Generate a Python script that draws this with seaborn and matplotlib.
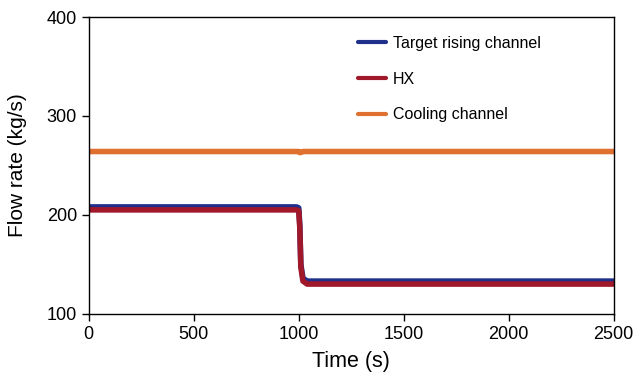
import matplotlib
matplotlib.use("Agg")
import matplotlib.pyplot as plt
import seaborn as sns
import pandas as pd

# Transient flow rates in the loop after the step change at t = 1000 s
time_s = [0, 990, 1000, 1005, 1010, 1020, 1040, 1500, 2500]
target_rising = [208, 208, 207, 190, 150, 136, 133, 133, 133]
hx = [205, 205, 204, 187, 147, 133, 130, 130, 130]
cooling = [264, 264, 264, 263, 263, 264, 264, 264, 264]

series_names = ["Target rising channel", "HX", "Cooling channel"]
series_colors = ["#1f2f8a", "#a0182a", "#e0702f"]

df = pd.DataFrame({
    "Time (s)": time_s * 3,
    "Flow rate (kg/s)": target_rising + hx + cooling,
    "series": [n for n in series_names for _ in time_s],
})

sns.set_theme(style="white")
plt.rcParams["font.family"] = ["Liberation Sans", "DejaVu Sans"]
plt.rcParams["text.color"] = "black"
plt.rcParams["axes.labelcolor"] = "black"

fig, ax = plt.subplots(figsize=(6.34, 3.78), dpi=100)
fig.subplots_adjust(left=0.14, right=0.968, top=0.955, bottom=0.17)

sns.lineplot(data=df, x="Time (s)", y="Flow rate (kg/s)", hue="series",
             hue_order=series_names, palette=series_colors, linewidth=4,
             ax=ax, legend=True)

ax.set_xlim(0, 2500)
ax.set_ylim(100, 400)
ax.set_xticks([0, 500, 1000, 1500, 2000, 2500])
ax.set_yticks([100, 200, 300, 400])
ax.tick_params(axis="both", direction="out", length=5, width=1, labelsize=13,
               colors="black", bottom=True, left=True)
ax.set_xlabel("Time (s)", fontsize=15.5, labelpad=6)
ax.set_ylabel("Flow rate (kg/s)", fontsize=15, labelpad=14)
for sp in ax.spines.values():
    sp.set_color("black")
    sp.set_linewidth(1.0)

leg = ax.legend(loc="upper left", bbox_to_anchor=(0.485, 0.985), frameon=False,
                fontsize=11.5, handlelength=1.8, handletextpad=0.4,
                labelspacing=1.3)
for line in leg.get_lines():
    line.set_linewidth(3)

fig.savefig("out.png", dpi=100)
